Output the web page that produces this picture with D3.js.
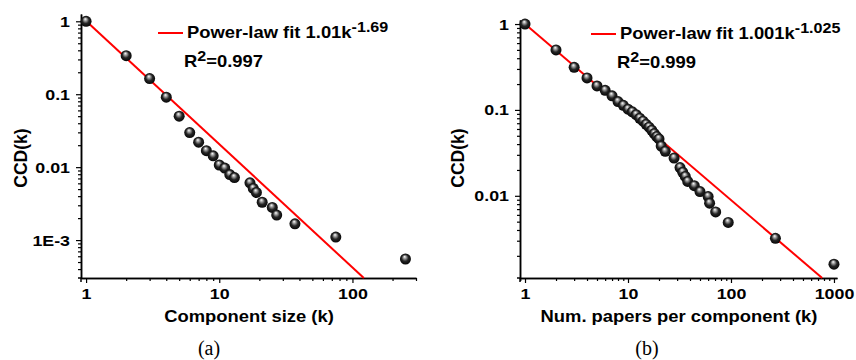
<!DOCTYPE html>
<html>
<head>
<meta charset="utf-8">
<script src="https://cdn.jsdelivr.net/npm/d3@7"></script>
<style>
body { margin:0; background:#fff; }
svg text { font-family: "Liberation Sans", Arial, sans-serif; font-weight:bold; fill:#000; }
.axis path, .axis line { stroke:#000; }
.cap { font-family: "Liberation Serif", serif !important; font-weight:normal !important; }
</style>
</head>
<body>
<svg id="graph1"></svg>
<script>
// panel (a): component size
var sizeK   = [1, 2, 3, 4, 5, 6, 7, 8, 9, 10, 11, 12, 13, 17, 18, 19, 21, 25, 27, 37, 75, 250]
var sizeCCD = [1, 0.338, 0.164, 0.091, 0.05, 0.0298, 0.022, 0.0168, 0.0143, 0.0107, 0.0097, 0.0079, 0.0072,
               0.0061, 0.0051, 0.0045, 0.0033, 0.0028, 0.0022, 0.00167, 0.0011, 0.00055]
var sizeFit = [1.01, -1.69]
var sizeYTicks = [1, 0.1, 0.01, 0.001]
var sizeYLabels = ["1", "0.1", "0.01", "1E-3"]
var sizeXTicks = [1, 10, 100]

// panel (b): papers per component
var papersK   = [1, 2, 3, 4, 5, 6, 7, 8, 9, 10, 11, 12, 13, 14, 15, 16, 17, 18, 19, 20, 21, 23, 28, 32, 34, 36, 38,
                 44, 50, 60, 62, 71, 94, 270, 1000]
var papersCCD = [1, 0.5, 0.313, 0.236, 0.19, 0.169, 0.146, 0.125, 0.113, 0.102, 0.095, 0.088, 0.08, 0.074, 0.068,
                 0.063, 0.058, 0.053, 0.049, 0.046, 0.038, 0.033, 0.0275, 0.0213, 0.0188, 0.0168, 0.0147,
                 0.0131, 0.0112, 0.0098, 0.0082, 0.0065, 0.0049, 0.0032, 0.0016]
var papersFit = [1.001, -1.025]
var papersYTicks = [1, 0.1, 0.01]
var papersYLabels = ["1", "0.1", "0.01"]
var papersXTicks = [1, 10, 100, 1000]

var screen = {width:856, height:360}
var stretch = 1.15   // the original figure's lettering is a bit wide

var svg = d3.select("#graph1")
    .attr("width", screen.width)
    .attr("height", screen.height)

var defs = svg.append("defs")
var grad = defs.append("radialGradient")
    .attr("id", "ball")
    .attr("cx", "50%").attr("cy", "50%").attr("r", "55%")
    .attr("fx", "42%").attr("fy", "28%")
grad.append("stop").attr("offset", "0%").attr("stop-color", "#ffffff")
grad.append("stop").attr("offset", "22%").attr("stop-color", "#a8a8a8")
grad.append("stop").attr("offset", "55%").attr("stop-color", "#262626")
grad.append("stop").attr("offset", "100%").attr("stop-color", "#000000")

var minorTicks = function(domain)
{
    var a = Math.min(domain[0], domain[1]), b = Math.max(domain[0], domain[1])
    var out = []
    for (var e = Math.floor(Math.log10(a)); e <= Math.ceil(Math.log10(b)); e++) {
        for (var m = 2; m <= 9; m++) {
            var v = m * Math.pow(10, e)
            if (v >= a && v <= b) out.push(v)
        }
    }
    return out
}

// text placed at x,y and widened a little
var wideText = function(g, x, y, size, anchor)
{
    return g.append("g")
        .attr("transform", "translate(" + x + "," + y + ") scale(" + stretch + ",1)")
        .append("text")
        .attr("text-anchor", anchor)
        .style("font-size", size + "px")
}

var drawPanel = function(p)
{
    var xScale = d3.scaleLog().domain(p.xDomain).range(p.xRange)
    var yScale = d3.scaleLog().domain(p.yDomain).range(p.yRange)
    var x0 = p.xRange[0], yb = p.yRange[1]

    var g = svg.append("g")

    var xAxis = d3.axisBottom(xScale).tickValues(p.xTicks).tickFormat(d3.format("d"))
        .tickSizeInner(5).tickSizeOuter(0).tickPadding(4)
    var xMinor = d3.axisBottom(xScale).tickValues(minorTicks(p.xDomain)).tickFormat("")
        .tickSizeInner(3).tickSizeOuter(0)
    var yAxis = d3.axisLeft(yScale).tickValues(p.yTicks).tickFormat(function(d, i) { return p.yLabels[i] })
        .tickSizeInner(5).tickSizeOuter(0).tickPadding(4)
    var yMinor = d3.axisLeft(yScale).tickValues(minorTicks(p.yDomain)).tickFormat("")
        .tickSizeInner(3).tickSizeOuter(0)

    g.append("g").attr("class", "axis").attr("transform", "translate(0," + yb + ")").call(xMinor)
    var gx = g.append("g").attr("class", "axis").attr("transform", "translate(0," + yb + ")").call(xAxis)
    g.append("g").attr("class", "axis").attr("transform", "translate(" + x0 + ",0)").call(yMinor)
    var gy = g.append("g").attr("class", "axis").attr("transform", "translate(" + x0 + ",0)").call(yAxis)

    g.selectAll(".axis path").attr("stroke-width", 1.5)
    g.selectAll(".axis line").attr("stroke-width", 1.2)
    g.selectAll(".axis text")
        .style("font-size", "15.5px")
        .style("font-family", "Liberation Sans, Arial")
        .style("font-weight", "bold")
        .attr("transform", "scale(" + stretch + ",1)")
    gx.selectAll("text").attr("y", 10)
    gy.selectAll("text").attr("x", -11 / stretch)

    // small overhang where the axes cross
    g.append("line").attr("x1", x0 - 3).attr("x2", x0).attr("y1", yb).attr("y2", yb)
        .attr("stroke", "#000").attr("stroke-width", 1.5)
    g.append("line").attr("x1", x0).attr("x2", x0).attr("y1", yb).attr("y2", yb + 4)
        .attr("stroke", "#000").attr("stroke-width", 1.5)

    // fit line, cut at the bottom of the plot
    var kEnd = Math.pow(p.yDomain[1] / p.fit[0], 1 / p.fit[1])
    g.append("line")
        .attr("x1", xScale(1)).attr("y1", yScale(p.fit[0]))
        .attr("x2", xScale(kEnd)).attr("y2", yScale(p.yDomain[1]))
        .attr("stroke", "#ff0000").attr("stroke-width", 2)

    g.selectAll("circle.pt")
        .data(p.xs)
        .enter()
        .append("circle")
        .attr("class", "pt")
        .attr("cx", function(d) { return xScale(d) })
        .attr("cy", function(d, i) { return yScale(p.ys[i]) })
        .attr("r", 5.5)
        .attr("fill", "url(#ball)")

    // legend
    var lx = p.legend[0], ly = p.legend[1]
    g.append("line").attr("x1", lx).attr("x2", lx + 25).attr("y1", ly).attr("y2", ly)
        .attr("stroke", "#ff0000").attr("stroke-width", 2)
    var t1 = wideText(g, lx + 29, ly + 5, 16, "start")
    t1.append("tspan").text(p.fitText)
    t1.append("tspan").attr("dy", -6).style("font-size", "14px").text(p.fitExp)
    var t2 = wideText(g, lx + 26, ly + 34, 16, "start")
    t2.append("tspan").text("R")
    t2.append("tspan").attr("dy", -6).style("font-size", "14px").text("2")
    t2.append("tspan").attr("dy", 6).text(p.r2Text)

    // axis titles
    wideText(g, p.xTitlePos[0], p.xTitlePos[1], 16, "middle").text(p.xTitle)
    g.append("text")
        .attr("transform", "translate(" + p.yTitlePos[0] + "," + p.yTitlePos[1] + ") rotate(-90)")
        .attr("text-anchor", "middle")
        .style("font-size", "17.5px")
        .text("CCD(k)")
    g.append("text")
        .attr("class", "cap")
        .attr("x", p.capPos[0]).attr("y", p.capPos[1])
        .attr("text-anchor", "middle")
        .style("font-size", "20px")
        .text(p.cap)
}

drawPanel({
    xs: sizeK, ys: sizeCCD, fit: sizeFit,
    xDomain: [0.916, 300], xRange: [81, 416],
    yDomain: [Math.pow(10, 0.1), Math.pow(10, -3.52)], yRange: [14, 278],
    xTicks: sizeXTicks, yTicks: sizeYTicks, yLabels: sizeYLabels,
    legend: [158, 33], fitText: "Power-law fit 1.01k", fitExp: "-1.69", r2Text: "=0.997",
    xTitle: "Component size (k)", xTitlePos: [249, 322],
    yTitlePos: [27, 158], cap: "(a)", capPos: [209, 355]
})

drawPanel({
    xs: papersK, ys: papersCCD, fit: papersFit,
    xDomain: [0.894, 1070], xRange: [520, 837],
    yDomain: [Math.pow(10, 0.047), Math.pow(10, -2.957)], yRange: [20, 278],
    xTicks: papersXTicks, yTicks: papersYTicks, yLabels: papersYLabels,
    legend: [591, 34], fitText: "Power-law fit 1.001k", fitExp: "-1.025", r2Text: "=0.999",
    xTitle: "Num. papers per component (k)", xTitlePos: [679, 322],
    yTitlePos: [464, 158], cap: "(b)", capPos: [647, 355]
})
</script>
</body>
</html>
